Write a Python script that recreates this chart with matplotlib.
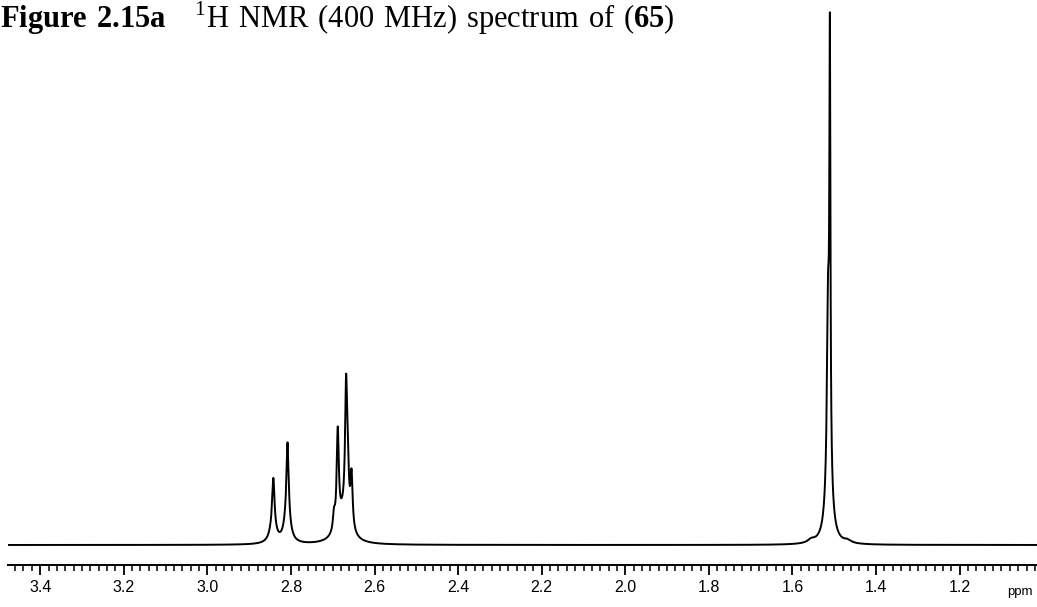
import numpy as np
import matplotlib
matplotlib.use('Agg')
import matplotlib.pyplot as plt
from matplotlib.ticker import MultipleLocator

# peak list (ppm, relative height, full width in ppm)
peak_ppm = [2.842, 2.843, 2.808, 2.809,
            2.697, 2.688, 2.668, 2.664, 2.655, 2.675,
            1.5105, 1.5150, 1.5130, 1.555, 1.468]
peak_height = [8.2, 4.0, 13.5, 5.5,
               3.0, 18.0, 24.0, 8.0, 10.0, 5.0,
               78.0, 30.0, 14.0, 0.6, 0.5]
peak_width = [0.006, 0.016, 0.006, 0.016,
              0.006, 0.006, 0.006, 0.006, 0.006, 0.035,
              0.003, 0.006, 0.016, 0.02, 0.02]

tick_labels = ['3.4', '3.2', '3.0', '2.8', '2.6', '2.4', '2.2', '2.0', '1.8', '1.6', '1.4', '1.2']
tick_ppm = [3.4, 3.2, 3.0, 2.8, 2.6, 2.4, 2.2, 2.0, 1.8, 1.6, 1.4, 1.2]

ppm_left, ppm_right = 3.477, 1.015

plt.rcParams['mathtext.fontset'] = 'custom'
plt.rcParams['mathtext.rm'] = 'Liberation Serif'
plt.rcParams['mathtext.bf'] = 'Liberation Serif:bold'

x = np.linspace(ppm_right, ppm_left, 30000)
y = np.zeros_like(x)
for p, h, w in zip(peak_ppm, peak_height, peak_width):
    hw = w / 2
    y += h * hw**2 / ((x - p)**2 + hw**2)

fig = plt.figure(figsize=(10.37, 6.07), dpi=100)
ax = fig.add_axes([8 / 1037, 42 / 607, 1 - 8 / 1037, 565 / 607])
ax.plot(x, y, color='black', lw=1.4)
ax.set_xlim(ppm_left, ppm_right)
ax.set_ylim(-20 / 5.32, 545 / 5.32)

for s in ['top', 'left', 'right']:
    ax.spines[s].set_visible(False)
ax.spines['bottom'].set_linewidth(1.4)
ax.set_yticks([])
ax.set_xticks(tick_ppm)
ax.set_xticklabels(tick_labels, family=['Liberation Sans Narrow', 'Liberation Sans'], fontsize=11.5)
ax.xaxis.set_minor_locator(MultipleLocator(0.02))
ax.tick_params(axis='x', which='major', length=7, width=1.3, pad=4)
ax.tick_params(axis='x', which='minor', length=4, width=1.1)

fig.text(1020 / 1037, 1 - 592 / 607, 'ppm', family=['Liberation Sans Narrow', 'Liberation Sans'],
         fontsize=9.5, ha='center', va='center')

fig.text(0.0, 1 - 28 / 607,
         r'$\mathbf{Figure\ 2.15a}\ \ \ ^{1}\mathrm{H\ NMR\ (400\ MHz)\ spectrum\ of\ (}\mathbf{65}\mathrm{)}$',
         fontsize=22, ha='left', va='baseline')

fig.savefig('out.png', dpi=100)
